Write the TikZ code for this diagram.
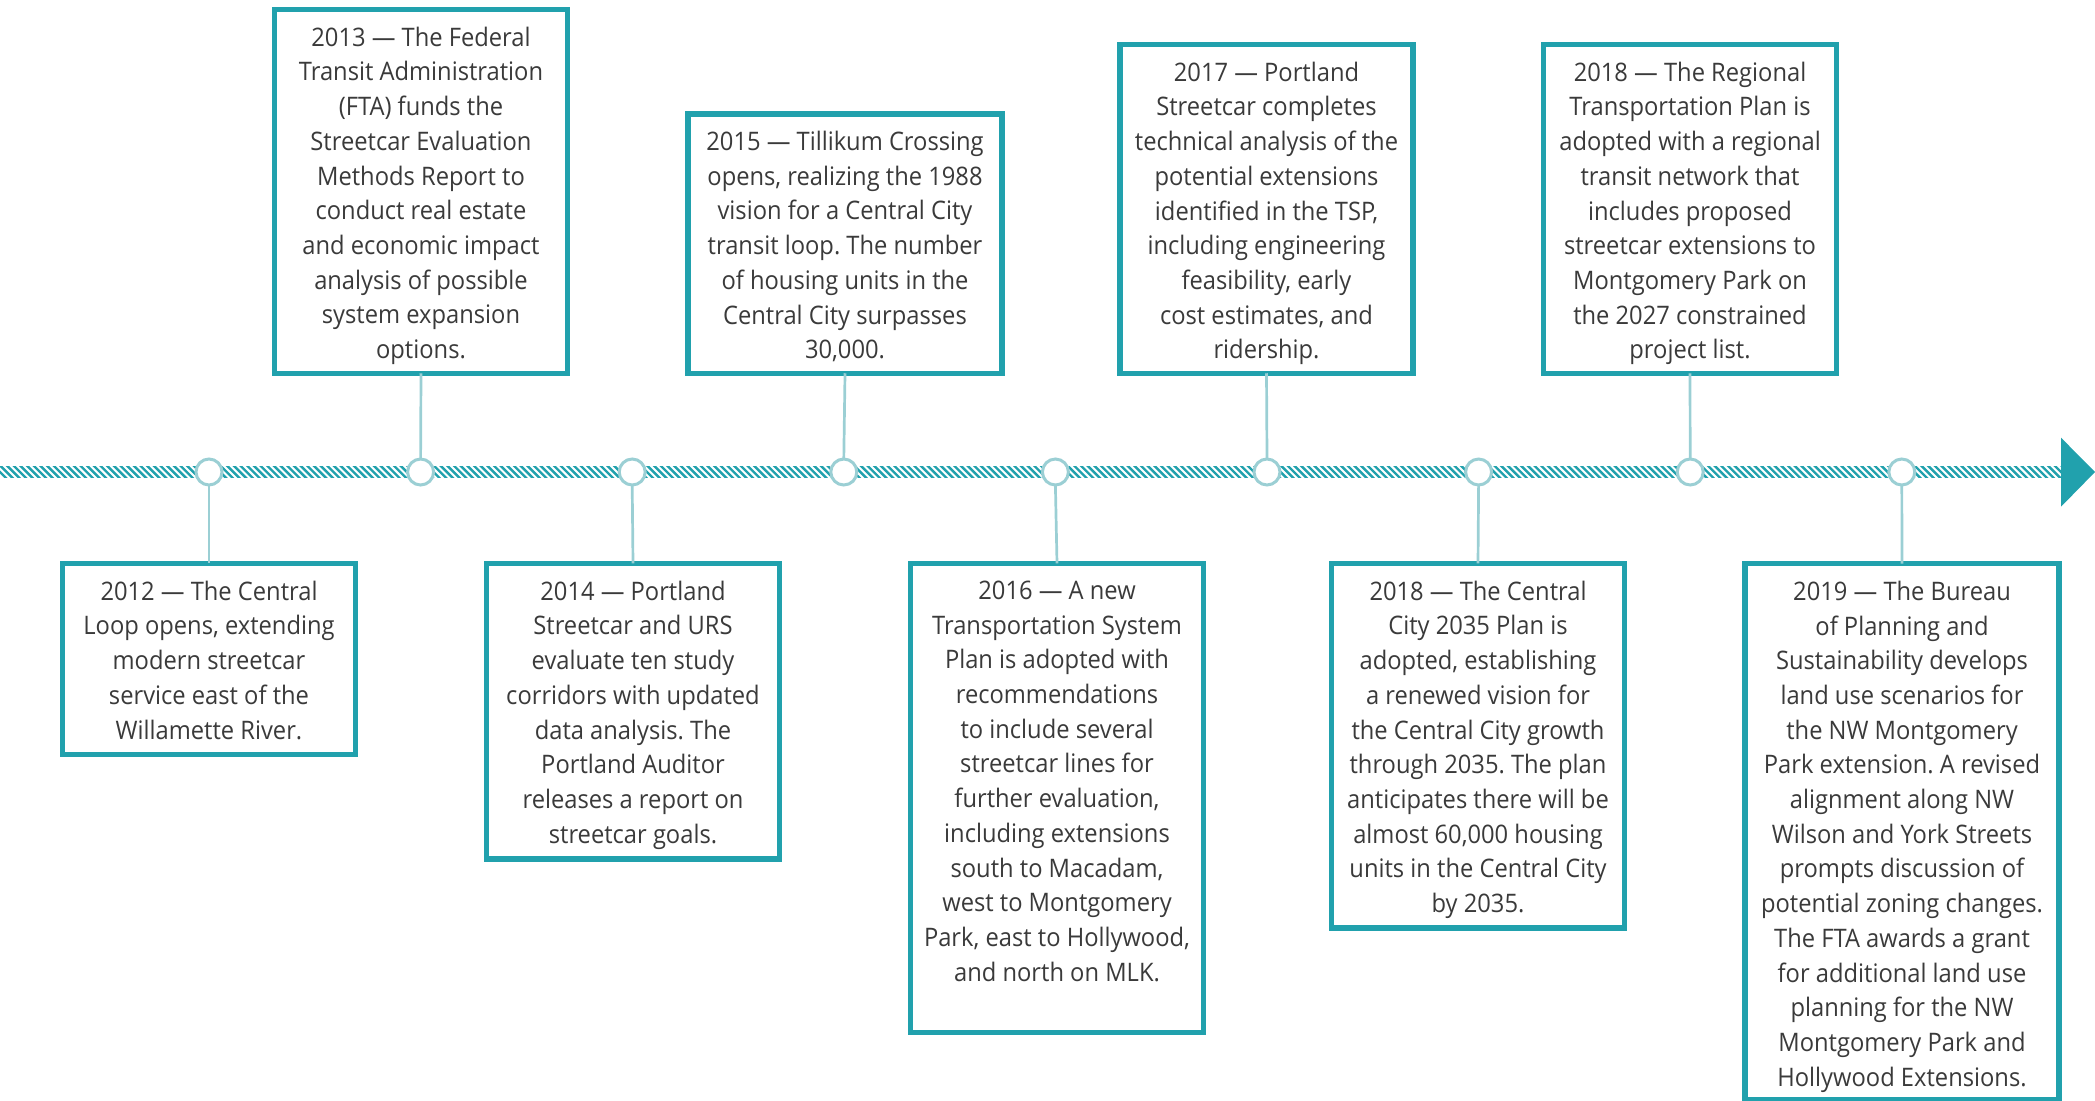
\documentclass[tikz,border=0pt]{standalone}
\usepackage{fontspec}
\setmainfont{Open Sans}[FakeStretch=0.93]
\definecolor{tealA}{HTML}{21A1AD}
\definecolor{tealB}{HTML}{9BCFD4}
\definecolor{txtc}{HTML}{3A3A3A}
\frenchspacing
\begin{document}
\begin{tikzpicture}[x=1pt,y=-1pt,
 box/.style={draw=tealA,line width=5.5pt,fill=white,inner sep=0pt,outer sep=0pt,minimum width=293pt},
 widebox/.style={minimum width=314pt},
 txtnode/.style={anchor=north,inner sep=0pt,align=center,text=txtc,font=\fontsize{25.5}{34.7}\selectfont,execute at begin node=\strut},
 dot/.style={circle,draw=tealB,line width=3pt,fill=white,minimum size=26pt,inner sep=0pt,outer sep=0pt},
 conn/.style={draw=tealB,line width=2.7pt}]
\useasboundingbox (0,0) rectangle (2095,1100);
% hatched time line
\begin{scope}
\clip (0,466.5) rectangle (2062,477.5);
\foreach \i in {0,...,312} \draw[tealA,line width=2.4pt] ({\i*6.67-10},462) -- ({\i*6.67+10},482);
\end{scope}
\fill[tealA] (2061,437.7) -- (2095,472) -- (2061,506.7) -- cycle;
% circles
\node[dot] (c1) at (209,472) {};
\node[dot] (c2) at (420.6,472) {};
\node[dot] (c3) at (632.2,472) {};
\node[dot] (c4) at (843.8,472) {};
\node[dot] (c5) at (1055.4,472) {};
\node[dot] (c6) at (1267,472) {};
\node[dot] (c7) at (1478.6,472) {};
\node[dot] (c8) at (1690.2,472) {};
\node[dot] (c9) at (1901.8,472) {};
% boxes
\node[box,minimum height=191.1pt] (b12) at (209,659) {};
\node[box,minimum height=363.8pt] (b13) at (421,191.35) {};
\node[box,minimum height=295.5pt] (b14) at (633,711.2) {};
\node[box,widebox,minimum height=259.5pt] (b15) at (845,243.5) {};
\node[box,minimum height=468.8pt] (b16) at (1057,797.85) {};
\node[box,minimum height=328.8pt] (b17) at (1266.5,208.85) {};
\node[box,minimum height=364.5pt] (b18b) at (1478,745.7) {};
\node[box,minimum height=328.8pt] (b18a) at (1690,208.85) {};
\node[box,widebox,minimum height=536pt] (b19) at (1902,831.5) {};
% texts
\node[txtnode] (t12) at ([yshift=-17.25pt]b12.north) {2012 — The Central\\Loop opens, extending\\modern streetcar\\service east of the\\Willamette River.};
\node[txtnode] (t13) at ([yshift=-17.25pt]b13.north) {2013 — The Federal\\Transit Administration\\(FTA) funds the\\Streetcar Evaluation\\Methods Report to\\conduct real estate\\and economic impact\\analysis of possible\\system expansion\\options.};
\node[txtnode] (t14) at ([yshift=-17.25pt]b14.north) {2014 — Portland\\Streetcar and URS\\evaluate ten study\\corridors with updated\\data analysis. The\\Portland Auditor\\releases a report on\\streetcar goals.};
\node[txtnode] (t15) at ([yshift=-17.25pt]b15.north) {2015 — Tillikum Crossing\\opens, realizing the 1988\\vision for a Central City\\transit loop. The number\\of housing units in the\\Central City surpasses\\30,000.};
\node[txtnode] (t16) at ([yshift=-17.25pt]b16.north) {2016 — A new\\Transportation System\\Plan is adopted with\\recommendations\\to include several\\streetcar lines for\\further evaluation,\\including extensions\\south to Macadam,\\west to Montgomery\\Park, east to Hollywood,\\and north on MLK.};
\node[txtnode] (t17) at ([yshift=-17.25pt]b17.north) {2017 — Portland\\Streetcar completes\\technical analysis of the\\potential extensions\\identified in the TSP,\\including engineering\\feasibility, early\\cost estimates, and\\ridership.};
\node[txtnode] (t18b) at ([yshift=-17.25pt]b18b.north) {2018 — The Central\\City 2035 Plan is\\adopted, establishing\\a renewed vision for\\the Central City growth\\through 2035. The plan\\anticipates there will be\\almost 60,000 housing\\units in the Central City\\by 2035.};
\node[txtnode] (t18a) at ([yshift=-17.25pt]b18a.north) {2018 — The Regional\\Transportation Plan is\\adopted with a regional\\transit network that\\includes proposed\\streetcar extensions to\\Montgomery Park on\\the 2027 constrained\\project list.};
\node[txtnode] (t19) at ([yshift=-17.25pt]b19.north) {2019 — The Bureau\\of Planning and\\Sustainability develops\\land use scenarios for\\the NW Montgomery\\Park extension. A revised\\alignment along NW\\Wilson and York Streets\\prompts discussion of\\potential zoning changes.\\The FTA awards a grant\\for additional land use\\planning for the NW\\Montgomery Park and\\Hollywood Extensions.};
% connectors
\draw[conn] (c1.south) -- (b12.north);
\draw[conn] (b13.south) -- (c2.north);
\draw[conn] (c3.south) -- (b14.north);
\draw[conn] (b15.south) -- (c4.north);
\draw[conn] (c5.south) -- (b16.north);
\draw[conn] (b17.south) -- (c6.north);
\draw[conn] (c7.south) -- (b18b.north);
\draw[conn] (b18a.south) -- (c8.north);
\draw[conn] (c9.south) -- (b19.north);
\end{tikzpicture}
\end{document}
